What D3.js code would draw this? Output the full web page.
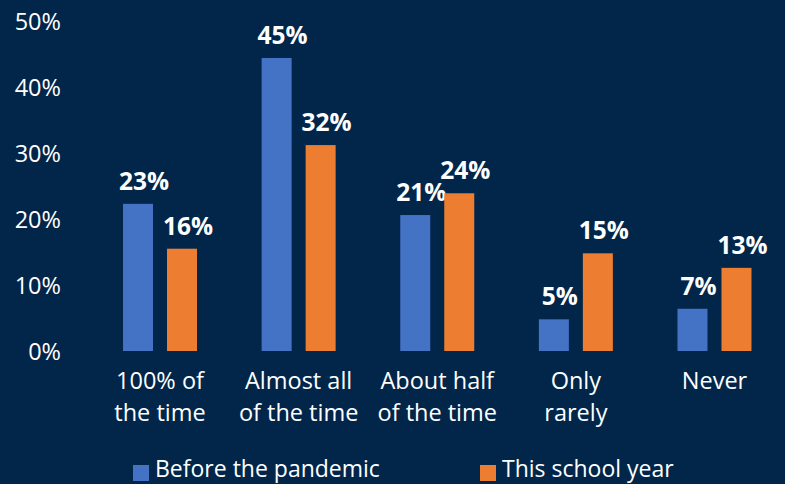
<!DOCTYPE html>
<html><head><meta charset="utf-8">
<script src="https://cdn.jsdelivr.net/npm/d3@7"></script>
<style>
html,body{margin:0;padding:0;background:#01264a;overflow:hidden}
svg{display:block}
text{font-family:"Open Sans","Noto Sans",sans-serif;fill:#fff}
</style></head>
<body><svg id="c" width="785" height="484"></svg>
<script>
const categories = [["100% of","the time"],["Almost all","of the time"],["About half","of the time"],["Only","rarely"],["Never"]];
const before = [22.3, 44.4, 20.6, 4.8, 6.4];
const thisYear = [15.5, 31.2, 23.9, 14.8, 12.6];
const beforeLabels = ["23%","45%","21%","5%","7%"];
const thisLabels = ["16%","32%","24%","15%","13%"];
const yTicks = [0,10,20,30,40,50];
const seriesNames = ["Before the pandemic","This school year"];
const colors = ["#4472c4","#ed7d31"];

const svg = d3.select("#c");
const x = d3.scaleBand().domain(d3.range(categories.length)).range([90.7, 783.8]);
const y = d3.scaleLinear().domain([0,50]).range([351,21]);
const sub = d3.scaleBand().domain([0,1]).range([-37,37]).paddingInner(14/44);

const yAxis = d3.axisLeft(y).tickValues(yTicks).tickFormat(d=>d+"%").tickSize(0).tickPadding(0);
const ga = svg.append("g").attr("transform","translate(61,0)").call(yAxis);
ga.select(".domain").remove();
ga.selectAll("text").attr("font-size",23.5).attr("fill","#fff").attr("font-family","Open Sans").attr("dy","0.35em");

const series = [before, thisYear];
const labels = [beforeLabels, thisLabels];
series.forEach((vals, s) => {
  const g = svg.append("g");
  vals.forEach((v, i) => {
    const cx = x(i) + x.bandwidth()/2;
    const bx = cx + sub(s);
    g.append("rect").attr("x", bx).attr("y", y(v)).attr("width", sub.bandwidth()).attr("height", y(0)-y(v)).attr("fill", colors[s]);
    g.append("text").attr("x", bx + sub.bandwidth()/2 + 6).attr("y", y(v)-14)
      .attr("text-anchor","middle").attr("font-weight","bold").attr("font-size",24.5).text(labels[s][i]);
  });
});

categories.forEach((lines, i) => {
  const cx = x(i) + x.bandwidth()/2;
  const t = svg.append("text").attr("x", cx).attr("y", 389).attr("text-anchor","middle").attr("font-size",23.5);
  lines.forEach((l, j) => t.append("tspan").attr("x", cx).attr("dy", j===0?0:32).text(l));
});

const legX = [133, 480];
seriesNames.forEach((n, s) => {
  svg.append("rect").attr("x", legX[s]).attr("y", 465).attr("width",16).attr("height",16).attr("fill", colors[s]);
  svg.append("text").attr("x", legX[s]+22).attr("y", 477).attr("font-size",23).text(n);
});
</script></body></html>
